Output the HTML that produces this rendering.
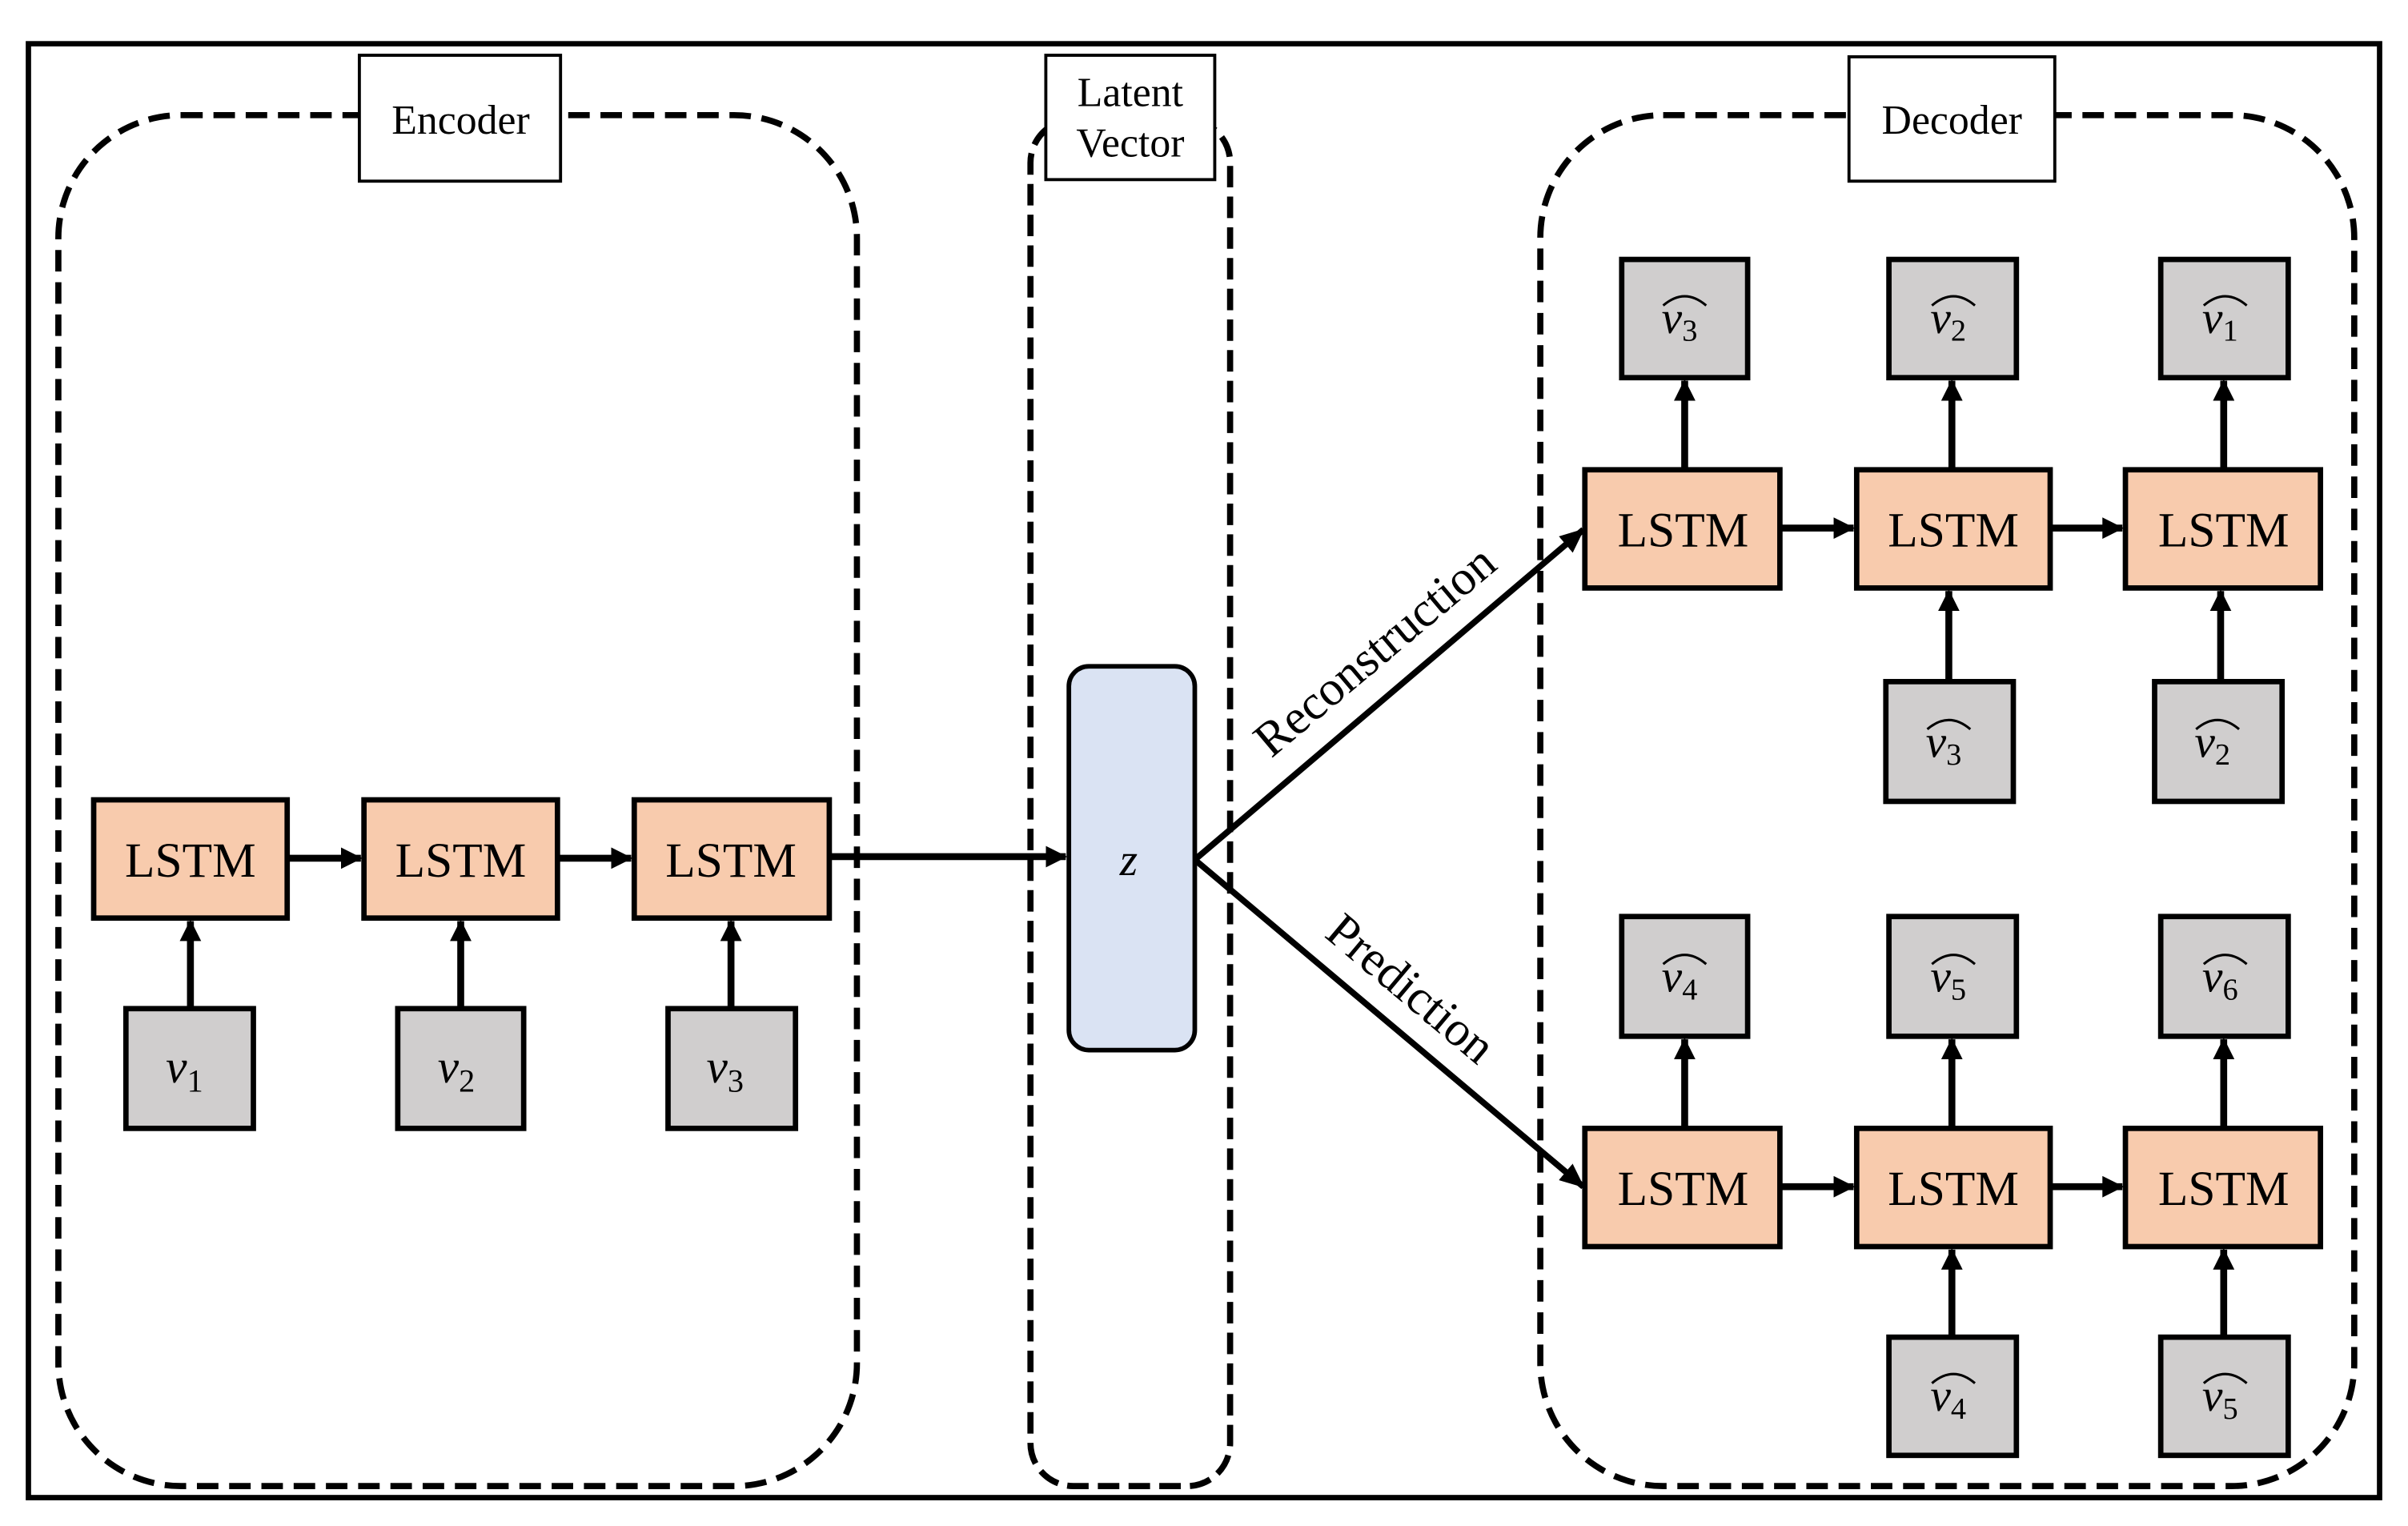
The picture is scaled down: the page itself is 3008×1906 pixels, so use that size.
<!DOCTYPE html>
<html><head><meta charset="utf-8"><style>
html,body{margin:0;padding:0;background:#fff;}
svg{display:block;}
text{font-family:"Liberation Serif",serif;fill:#000;}
</style></head><body>
<svg width="3008" height="1906" viewBox="0 0 1568 994" preserveAspectRatio="none" xmlns="http://www.w3.org/2000/svg">
<defs>
<marker id="ah" markerWidth="14" markerHeight="14" refX="13" refY="7" orient="auto" markerUnits="userSpaceOnUse">
<path d="M0,0 L14,7 L0,14 Z" fill="#000"/>
</marker>
<marker id="ah2" markerWidth="16" markerHeight="14" refX="15" refY="7" orient="auto" markerUnits="userSpaceOnUse">
<path d="M0,0 L16,7 L0,14 Z" fill="#000"/>
</marker>
</defs>
<rect x="18.5" y="28.5" width="1531" height="947" fill="none" stroke="#000" stroke-width="3.5"/>

<rect x="38" y="75" width="520" height="893" rx="80" fill="none" stroke="#000" stroke-width="4" stroke-dasharray="14,7"/>
<rect x="671" y="78" width="130" height="890" rx="28" fill="none" stroke="#000" stroke-width="4" stroke-dasharray="14,6"/>
<rect x="1003" y="75" width="530" height="893" rx="80" fill="none" stroke="#000" stroke-width="4" stroke-dasharray="14,7"/>

<rect x="234" y="36" width="131" height="82" fill="#fff" stroke="#000" stroke-width="2"/>
<text x="300" y="87" font-size="27" text-anchor="middle">Encoder</text>
<rect x="681" y="36" width="110" height="81" fill="#fff" stroke="#000" stroke-width="2"/>
<text x="736" y="69" font-size="27" text-anchor="middle">Latent</text>
<text x="736" y="102" font-size="27" text-anchor="middle">Vector</text>
<rect x="1204" y="37" width="134" height="81" fill="#fff" stroke="#000" stroke-width="2"/>
<text x="1271" y="87" font-size="27" text-anchor="middle">Decoder</text>

<rect x="696" y="434" width="82" height="250" rx="13" fill="#dae3f3" stroke="#000" stroke-width="3"/>
<text x="735" y="570" font-size="30" font-style="italic" text-anchor="middle">z</text>

<g stroke="#000" stroke-width="4.5" fill="none">
<line x1="187" y1="559" x2="235" y2="559" marker-end="url(#ah)"/>
<line x1="363" y1="559" x2="411" y2="559" marker-end="url(#ah)"/>
<line x1="540" y1="558" x2="694" y2="558" marker-end="url(#ah)"/>
<line x1="124" y1="657" x2="124" y2="600" marker-end="url(#ah)"/>
<line x1="300" y1="657" x2="300" y2="600" marker-end="url(#ah)"/>
<line x1="476" y1="657" x2="476" y2="600" marker-end="url(#ah)"/>
<line x1="778" y1="560" x2="1031" y2="345" stroke-width="4" marker-end="url(#ah2)"/>
<line x1="778" y1="560" x2="1031" y2="773" stroke-width="4" marker-end="url(#ah2)"/>
<line x1="1159" y1="344" x2="1207" y2="344" marker-end="url(#ah)"/>
<line x1="1335" y1="344" x2="1382" y2="344" marker-end="url(#ah)"/>
<line x1="1097" y1="306" x2="1097" y2="248" marker-end="url(#ah)"/>
<line x1="1271" y1="306" x2="1271" y2="248" marker-end="url(#ah)"/>
<line x1="1448" y1="306" x2="1448" y2="248" marker-end="url(#ah)"/>
<line x1="1269" y1="444" x2="1269" y2="385" marker-end="url(#ah)"/>
<line x1="1446" y1="444" x2="1446" y2="385" marker-end="url(#ah)"/>
<line x1="1159" y1="773" x2="1207" y2="773" marker-end="url(#ah)"/>
<line x1="1335" y1="773" x2="1382" y2="773" marker-end="url(#ah)"/>
<line x1="1097" y1="735" x2="1097" y2="677" marker-end="url(#ah)"/>
<line x1="1271" y1="735" x2="1271" y2="677" marker-end="url(#ah)"/>
<line x1="1448" y1="735" x2="1448" y2="677" marker-end="url(#ah)"/>
<line x1="1271" y1="871" x2="1271" y2="814" marker-end="url(#ah)"/>
<line x1="1448" y1="871" x2="1448" y2="814" marker-end="url(#ah)"/>
</g>

<text font-size="32" text-anchor="middle" transform="translate(902,432) rotate(-40)">Reconstruction</text>
<text font-size="32" text-anchor="middle" transform="translate(912,652) rotate(40)">Prediction</text>

<g fill="#f8cbad" stroke="#000" stroke-width="3.5">
<rect x="61" y="521" width="126" height="77"/>
<rect x="237" y="521" width="126" height="77"/>
<rect x="413" y="521" width="127" height="77"/>
<rect x="1032" y="306" width="127" height="77"/>
<rect x="1209" y="306" width="126" height="77"/>
<rect x="1384" y="306" width="127" height="77"/>
<rect x="1032" y="735" width="127" height="77"/>
<rect x="1209" y="735" width="126" height="77"/>
<rect x="1384" y="735" width="127" height="77"/>
</g>
<g font-size="32" text-anchor="middle">
<text x="124" y="571">LSTM</text>
<text x="300" y="571">LSTM</text>
<text x="476" y="571">LSTM</text>
<text x="1096" y="356">LSTM</text>
<text x="1272" y="356">LSTM</text>
<text x="1448" y="356">LSTM</text>
<text x="1096" y="785">LSTM</text>
<text x="1272" y="785">LSTM</text>
<text x="1448" y="785">LSTM</text>
</g>

<g fill="#d0cece" stroke="#000" stroke-width="3.5">
<rect x="82" y="657" width="83" height="78"/>
<rect x="259" y="657" width="82" height="78"/>
<rect x="435" y="657" width="83" height="78"/>
<rect x="1056" y="169" width="82" height="77"/>
<rect x="1230" y="169" width="83" height="77"/>
<rect x="1407" y="169" width="83" height="77"/>
<rect x="1228" y="444" width="83" height="78"/>
<rect x="1403" y="444" width="83" height="78"/>
<rect x="1056" y="597" width="82" height="78"/>
<rect x="1230" y="597" width="83" height="78"/>
<rect x="1407" y="597" width="83" height="78"/>
<rect x="1230" y="871" width="83" height="77"/>
<rect x="1407" y="871" width="83" height="77"/>
</g>
<g font-size="31" font-style="italic">
<text x="108" y="705">v<tspan font-size="21" font-style="normal" dy="6">1</tspan></text>
<text x="285" y="705">v<tspan font-size="21" font-style="normal" dy="6">2</tspan></text>
<text x="460" y="705">v<tspan font-size="21" font-style="normal" dy="6">3</tspan></text>
</g>
<g font-size="30" font-style="italic">
<text x="1082" y="217">v<tspan font-size="20" font-style="normal" dy="5">3</tspan></text>
<text x="1257" y="217">v<tspan font-size="20" font-style="normal" dy="5">2</tspan></text>
<text x="1434" y="217">v<tspan font-size="20" font-style="normal" dy="5">1</tspan></text>
<text x="1254" y="493">v<tspan font-size="20" font-style="normal" dy="5">3</tspan></text>
<text x="1429" y="493">v<tspan font-size="20" font-style="normal" dy="5">2</tspan></text>
<text x="1082" y="646">v<tspan font-size="20" font-style="normal" dy="5">4</tspan></text>
<text x="1257" y="646">v<tspan font-size="20" font-style="normal" dy="5">5</tspan></text>
<text x="1434" y="646">v<tspan font-size="20" font-style="normal" dy="5">6</tspan></text>
<text x="1257" y="919">v<tspan font-size="20" font-style="normal" dy="5">4</tspan></text>
<text x="1434" y="919">v<tspan font-size="20" font-style="normal" dy="5">5</tspan></text>
</g>
<g fill="none" stroke="#000" stroke-width="1.6">
<path d="M1083,199 Q1097,187 1111,199"/>
<path d="M1258,199 Q1272,187 1286,199"/>
<path d="M1435,199 Q1449,187 1463,199"/>
<path d="M1255,475 Q1269,463 1283,475"/>
<path d="M1430,475 Q1444,463 1458,475"/>
<path d="M1083,628 Q1097,616 1111,628"/>
<path d="M1258,628 Q1272,616 1286,628"/>
<path d="M1435,628 Q1449,616 1463,628"/>
<path d="M1258,901 Q1272,889 1286,901"/>
<path d="M1435,901 Q1449,889 1463,901"/>
</g>
</svg>
</body></html>
